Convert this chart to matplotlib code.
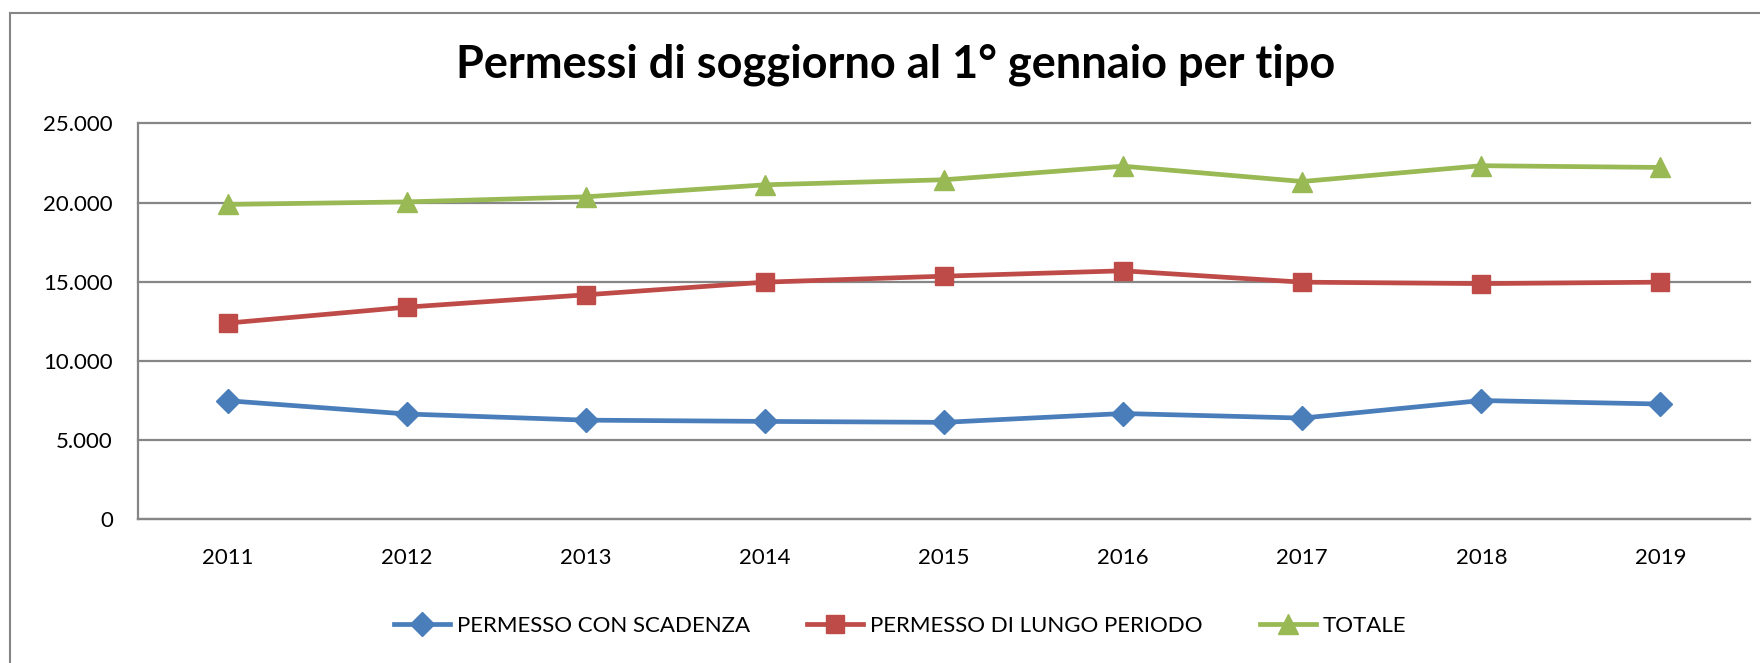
import matplotlib
matplotlib.use('Agg')
import matplotlib.pyplot as plt
from matplotlib.lines import Line2D
from matplotlib.ticker import FuncFormatter

# data
anni = ['2011', '2012', '2013', '2014', '2015', '2016', '2017', '2018', '2019']
con_scadenza = [7460, 6620, 6230, 6150, 6090, 6650, 6360, 7470, 7250]
lungo_periodo = [12370, 13380, 14160, 14960, 15340, 15680, 14960, 14870, 14960]
totale = [19880, 20040, 20360, 21120, 21440, 22300, 21330, 22330, 22220]

serie_labels = ['PERMESSO CON SCADENZA', 'PERMESSO DI LUNGO PERIODO', 'TOTALE']
titolo = 'Permessi di soggiorno al 1° gennaio per tipo'

plt.rcParams['font.family'] = ['Lato', 'DejaVu Sans']

W, H = 1760, 663
fig = plt.figure(figsize=(W / 100, H / 100), dpi=100)

# chart area border (left and top edges visible in the reference)
grey = '#868686'
fig.add_artist(Line2D([10 / W, 10 / W], [0, 1 - 13 / H], transform=fig.transFigure, color=grey, lw=1.5))
fig.add_artist(Line2D([10 / W, 1], [1 - 13 / H, 1 - 13 / H], transform=fig.transFigure, color=grey, lw=1.5))

left, right, top, bottom = 138, 1750, 123.5, 518.6
ax = fig.add_axes([left / W, 1 - bottom / H, (right - left) / W, (bottom - top) / H])

x = list(range(len(anni)))
ax.plot(x, con_scadenza, color='#4A7EBB', lw=3.4, marker='D', ms=12, label=serie_labels[0], zorder=3)
ax.plot(x, lungo_periodo, color='#BE4B48', lw=3.4, marker='s', ms=13, label=serie_labels[1], zorder=3)
ax.plot(x, totale, color='#98B954', lw=3.4, marker='^', ms=15, label=serie_labels[2], zorder=3)

ax.set_xlim(-0.5, len(anni) - 0.5)
ax.set_ylim(0, 25000)
ax.set_yticks(range(0, 25001, 5000))
ax.yaxis.set_major_formatter(FuncFormatter(lambda v, p: f'{int(v):,}'.replace(',', '.')))
ax.set_xticks(x)
ax.set_xticklabels(anni)
ax.tick_params(axis='both', length=0, labelsize=16, colors='black')
ax.tick_params(axis='y', pad=18)
ax.tick_params(axis='x', pad=21)

for gl in ax.get_yticks():
    ax.axhline(gl, color=grey, lw=1.6, zorder=1, clip_on=False)
for s in ['top', 'right']:
    ax.spines[s].set_visible(False)
for s in ['left', 'bottom']:
    ax.spines[s].set_color(grey)
    ax.spines[s].set_linewidth(1.6)

fig.text(896 / W, 1 - 65 / H, titolo, ha='center', va='center', fontsize=32.5, fontweight='bold')

fig.legend(loc='center', bbox_to_anchor=(900 / W, 1 - 626 / H), ncol=3, frameon=False,
           fontsize=16, handlelength=2.5, columnspacing=2.6, handletextpad=0.3)

fig.savefig('out.png', dpi=100)
